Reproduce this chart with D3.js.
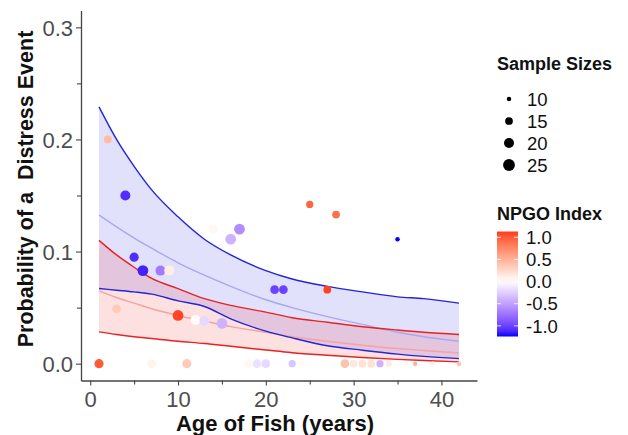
<!DOCTYPE html>
<html>
<head>
<meta charset="utf-8">
<script src="https://cdn.jsdelivr.net/npm/d3@7"></script>
<style>
  html, body { margin: 0; padding: 0; background: #fff; }
  svg { display: block; font-family: "Liberation Sans", Arial, Helvetica, sans-serif; }
</style>
</head>
<body>
<svg id="chart" width="628" height="435"></svg>
<script>
// ---- data ----
const curveAges   = [1, 3, 5, 7, 10, 13, 16, 20, 23, 27, 31, 35, 38, 42];
const blueUpper   = [0.229, 0.200, 0.176, 0.155, 0.131, 0.111, 0.097, 0.083, 0.0755, 0.069, 0.064, 0.0596, 0.058, 0.054];
const blueMid     = [0.1325, 0.122, 0.112, 0.103, 0.090, 0.079, 0.069, 0.057, 0.050, 0.042, 0.035, 0.028, 0.024, 0.020];
const blueLower   = [0.067, 0.0655, 0.064, 0.062, 0.056, 0.051, 0.040, 0.029, 0.023, 0.016, 0.012, 0.0085, 0.0065, 0.0045];
const redUpper    = [0.110, 0.097, 0.086, 0.076, 0.067, 0.058, 0.052, 0.046, 0.041, 0.037, 0.033, 0.030, 0.028, 0.026];
const redMid      = [0.065, 0.059, 0.054, 0.049, 0.043, 0.038, 0.033, 0.028, 0.024, 0.020, 0.0165, 0.0135, 0.0117, 0.0095];
const redLower    = [0.0284, 0.026, 0.024, 0.0225, 0.020, 0.018, 0.0155, 0.0122, 0.0098, 0.0075, 0.0055, 0.0038, 0.0028, 0.0016];

const pointAges   = [1, 2, 3, 4, 5, 6, 7, 8, 9, 10, 11, 12, 13, 14, 15, 16, 17, 18, 19, 20, 21, 22, 23, 24, 25, 27, 28, 29, 30, 31, 32, 33, 34, 35, 36, 37, 39, 42];
const pointProbs  = [0, 0.2, 0.049, 0.150, 0.095, 0.083, 0, 0.083, 0.083, 0.043, 0, 0.039, 0.038, 0.12, 0.036, 0.111, 0.12, 0, 0, 0, 0.066, 0.066, 0, 0, 0.142, 0.066, 0.133, 0, 0, 0, 0, 0, 0, 0.111, 0, 0, 0, 0];
const pointNPGO   = [1.0, 0.45, 0.35, -1.1, -1.1, -1.15, 0.08, -0.7, 0.12, 1.1, 0.35, 0.02, -0.2, 0.05, -0.4, -0.4, -0.6, 0.05, -0.15, -0.2, -1.0, -1.0, -0.3, 0.03, 0.95, 1.1, 0.9, 0.4, 0.15, 0.2, 0.2, -0.4, 0.15, -1.24, 0.05, 0.5, 0.1, 0.4];
const pointN      = [18, 15, 17, 20, 18, 22, 17, 20, 20, 22, 18, 20, 20, 18, 22, 22, 22, 17, 17, 17, 17, 17, 14, 13, 14, 15, 15, 17, 15, 15, 15, 14, 12, 10, 10, 10, 10, 10];

const xTicks = [0, 10, 20, 30, 40];
const xMinor = [5, 15, 25, 35];
const yTicks = [0, 0.1, 0.2, 0.3];
const yMinor = [0.05, 0.15, 0.25];
const sizeBreaks = [10, 15, 20, 25];
const colorBreaks = [1.0, 0.5, 0.0, -0.5, -1.0];
const npgoRange = [-1.24, 1.13];

// ---- scales ----
const svg = d3.select("#chart");
const x = d3.scaleLinear().domain([-1.05, 44.05]).range([81, 477]);
const y = d3.scaleLinear().domain([-0.015, 0.315]).range([380.5, 10.5]);
const areaScale = d3.scaleLinear().domain([10, 25]).range([5, 35]);
const r = n => Math.sqrt(areaScale(n));
const maxAbs = Math.max(Math.abs(npgoRange[0]), Math.abs(npgoRange[1]));
const baseCol = d3.scaleLinear().domain([-1, 0, 1]).range(["#0000ff", "#ffffff", "#ff0000"]).interpolate(d3.interpolateLab);
const color = v => baseCol(v / maxAbs);

// ---- ribbons & lines ----
const band = (lo, hi) => d3.area().x((d, i) => x(curveAges[i])).y0((d, i) => y(lo[i])).y1((d, i) => y(hi[i])).curve(d3.curveMonotoneX)(curveAges);
const line = vals => d3.line().x((d, i) => x(curveAges[i])).y((d, i) => y(vals[i])).curve(d3.curveMonotoneX)(curveAges);

const g = svg.append("g");
g.append("path").attr("d", band(blueLower, blueUpper)).attr("fill", "#3333ee").attr("fill-opacity", 0.15);
g.append("path").attr("d", band(redLower, redUpper)).attr("fill", "#f03030").attr("fill-opacity", 0.15);

g.append("path").attr("d", line(blueMid)).attr("fill", "none").attr("stroke", "#a8a8f2").attr("stroke-width", 1.4);
g.append("path").attr("d", line(redMid)).attr("fill", "none").attr("stroke", "#f4a2a2").attr("stroke-width", 1.4);
[blueUpper, blueLower].forEach(v => g.append("path").attr("d", line(v)).attr("fill", "none").attr("stroke", "#2424d8").attr("stroke-width", 1.4));
[redUpper, redLower].forEach(v => g.append("path").attr("d", line(v)).attr("fill", "none").attr("stroke", "#e82222").attr("stroke-width", 1.4));

// ---- points ----
g.selectAll("circle.pt").data(pointAges).enter().append("circle")
  .attr("class", "pt")
  .attr("cx", d => x(d))
  .attr("cy", (d, i) => y(pointProbs[i]))
  .attr("r", (d, i) => r(pointN[i]))
  .attr("fill", (d, i) => color(pointNPGO[i]));

// ---- axes ----
const axisColor = "#444";
const xAxis = svg.append("g").attr("transform", "translate(0,380.5)")
  .call(d3.axisBottom(x).tickValues(xTicks).tickSize(5).tickSizeOuter(0).tickPadding(4));
svg.append("g").attr("transform", "translate(0,380.5)")
  .call(d3.axisBottom(x).tickValues(xMinor).tickSize(4).tickSizeOuter(0).tickFormat(""))
  .select(".domain").remove();
const yAxis = svg.append("g").attr("transform", "translate(81,0)")
  .call(d3.axisLeft(y).tickValues(yTicks).tickFormat(d3.format(".1f")).tickSize(5).tickSizeOuter(0).tickPadding(3));
svg.append("g").attr("transform", "translate(81,0)")
  .call(d3.axisLeft(y).tickValues(yMinor).tickSize(4).tickSizeOuter(0).tickFormat(""))
  .select(".domain").remove();
svg.selectAll(".domain").attr("stroke", axisColor).attr("stroke-width", 1.3);
svg.selectAll(".tick line").attr("stroke", axisColor).attr("stroke-width", 1.1);
svg.selectAll(".tick text").attr("fill", "#4d4d4d").style("font-size", "22px").style("font-family", "'Liberation Sans', Arial, sans-serif");
xAxis.selectAll(".tick text").attr("dy", "0.78em");
yAxis.selectAll(".tick text").attr("dy", "0.36em");

// ---- axis titles ----
svg.append("text").attr("x", 275).attr("y", 431).attr("text-anchor", "middle")
  .style("font-size", "22px").style("font-weight", "bold").attr("fill", "#111")
  .text("Age of Fish (years)");
svg.append("text").attr("transform", "translate(33,189) rotate(-90)").attr("text-anchor", "middle")
  .style("font-size", "21.5px").style("font-weight", "bold").style("white-space", "pre").attr("fill", "#111")
  .text("Probability of a  Distress Event");

// ---- size legend ----
const lg = svg.append("g");
lg.append("text").attr("x", 497).attr("y", 70).style("font-size", "18px").style("font-weight", "bold").attr("fill", "#111").text("Sample Sizes");
const sizeY = [99, 121, 143, 165];
sizeBreaks.forEach((s, i) => {
  lg.append("circle").attr("cx", 509).attr("cy", sizeY[i]).attr("r", r(s)).attr("fill", "#000");
  lg.append("text").attr("x", 527).attr("y", sizeY[i]).attr("dy", "0.36em").style("font-size", "18.5px").attr("fill", "#111").text(s);
});

// ---- colour legend ----
lg.append("text").attr("x", 497).attr("y", 220).style("font-size", "18px").style("font-weight", "bold").attr("fill", "#111").text("NPGO Index");
const barTop = 231.5, barBot = 336.5, barX = 497, barW = 21;
const cy = d3.scaleLinear().domain([npgoRange[1], npgoRange[0]]).range([barTop, barBot]);
const defs = svg.append("defs");
const grad = defs.append("linearGradient").attr("id", "npgo").attr("x1", 0).attr("y1", 0).attr("x2", 0).attr("y2", 1);
d3.range(0, 1.0001, 0.05).forEach(t => {
  const v = npgoRange[1] + (npgoRange[0] - npgoRange[1]) * t;
  grad.append("stop").attr("offset", t).attr("stop-color", color(v));
});
lg.append("rect").attr("x", barX).attr("y", barTop).attr("width", barW).attr("height", barBot - barTop).attr("fill", "url(#npgo)");
colorBreaks.forEach(v => {
  lg.append("line").attr("x1", barX).attr("x2", barX + 4).attr("y1", cy(v)).attr("y2", cy(v)).attr("stroke", "#fff").attr("stroke-width", 0.8);
  lg.append("line").attr("x1", barX + barW - 4).attr("x2", barX + barW).attr("y1", cy(v)).attr("y2", cy(v)).attr("stroke", "#fff").attr("stroke-width", 0.8);
  lg.append("text").attr("x", 526).attr("y", cy(v)).attr("dy", "0.36em").style("font-size", "18.5px").attr("fill", "#111").text(d3.format(".1f")(v).replace("−", "-"));
});
</script>
</body>
</html>
